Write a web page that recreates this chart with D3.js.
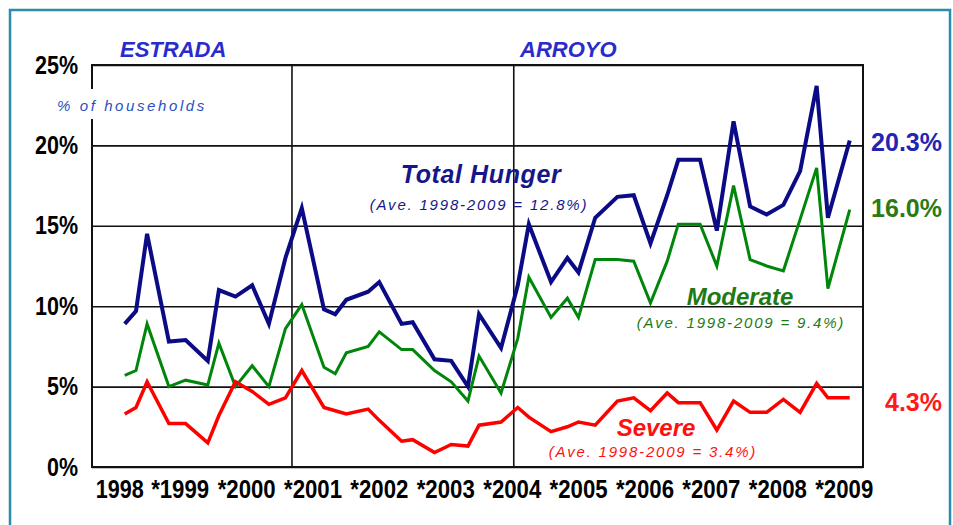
<!DOCTYPE html>
<html>
<head>
<meta charset="utf-8">
<script src="https://cdnjs.cloudflare.com/ajax/libs/d3/7.8.5/d3.min.js"></script>
<style>
  body { margin: 0; background: #fff; }
  .tick text { fill: #000; }
</style>
</head>
<body>
<div id="chart"></div>
<script>
// survey rounds (year-month)
var surveyMonths = ['1998-07','1998-09','1998-11','1999-03','1999-06','1999-10','1999-12',
  '2000-03','2000-06','2000-09','2000-12','2001-03','2001-07','2001-09','2001-11',
  '2002-03','2002-05','2002-09','2002-11','2003-03','2003-06','2003-09','2003-11',
  '2004-03','2004-06','2004-08','2004-12','2005-03','2005-05','2005-08','2005-12',
  '2006-03','2006-06','2006-09','2006-11','2007-03','2007-06','2007-09','2007-12',
  '2008-03','2008-06','2008-09','2008-12','2009-02','2009-06'];

var totalHunger = [8.9,9.7,14.5,7.8,7.9,6.6,11.0,10.6,11.3,8.9,13.0,16.1,9.8,9.5,10.4,
  10.9,11.5,8.9,9.0,6.7,6.6,5.0,9.5,7.4,11.3,15.1,11.5,13.0,12.1,15.5,16.8,
  16.9,13.9,16.9,19.1,19.1,14.7,21.5,16.2,15.7,16.3,18.4,23.7,15.5,20.3];

var moderateHunger = [5.7,6.0,8.9,5.0,5.4,5.1,7.7,5.0,6.3,5.0,8.6,10.1,6.2,5.8,7.1,
  7.5,8.4,7.3,7.3,6.0,5.3,4.1,6.9,4.6,8.0,11.8,9.3,10.5,9.3,12.9,12.9,
  12.8,10.2,12.8,15.1,15.1,12.5,17.5,12.9,12.5,12.2,15.4,18.6,11.1,16.0];

var severeHunger = [3.3,3.7,5.3,2.7,2.7,1.5,3.2,5.3,4.7,3.9,4.3,6.0,3.7,3.5,3.3,
  3.6,2.9,1.6,1.7,0.9,1.4,1.3,2.6,2.8,3.7,3.1,2.2,2.5,2.8,2.6,4.1,
  4.3,3.5,4.6,4.0,4.0,2.3,4.1,3.4,3.4,4.2,3.4,5.2,4.3,4.3];

var seriesNames = ['Total Hunger','Moderate','Severe'];
var seriesAverages = [12.8, 9.4, 3.4];
var yTicks = [0,5,10,15,20,25];
var yearLabels = [1998,1999,2000,2001,2002,2003,2004,2005,2006,2007,2008,2009];
var termBreaks = ['2001-01-20','2004-05-24'];
var presidents = ['ESTRADA','ARROYO'];

var svgWidth = 953,
  svgHeight = 525;

var margin = {t:65, r:90, b:58, l:92};
var width = svgWidth - margin.l - margin.r,
  height = svgHeight - margin.t - margin.b;

var svg = d3.select('#chart')
  .append('svg')
  .attr('width', svgWidth)
  .attr('height', svgHeight)
  .style('display','block');

// outer teal frame
svg.append('rect')
  .attr('x', 10).attr('y', 10)
  .attr('width', 940).attr('height', 530)
  .attr('fill', '#fff')
  .attr('stroke', '#2a8cab')
  .attr('stroke-width', 2.5);

var chartGroup = svg.append('g')
  .attr('transform', `translate(${margin.l},${margin.t})`);

var parseMonth = d3.timeParse('%Y-%m');
var parseDay = d3.timeParse('%Y-%m-%d');
var midMonth = s => d3.timeDay.offset(parseMonth(s), 14);

var xScale = d3.scaleTime()
  .domain([new Date(1998,0,16), new Date(2009,7,27)])
  .range([0, width]);

var yScale = d3.scaleLinear()
  .domain([0, 25])
  .range([height, 0]);

// narrow look: no condensed font installed, so squeeze glyphs with textLength
var axisFont = '"Liberation Sans",Arial,sans-serif';

// y gridlines + labels
var yAxis = chartGroup.append('g')
  .call(d3.axisLeft(yScale).tickValues(yTicks).tickSize(-width).tickPadding(14).tickFormat(d => d + '%'));
yAxis.select('.domain').remove();
yAxis.selectAll('.tick line').attr('stroke', '#111').attr('stroke-width', 1.6);
yAxis.selectAll('.tick text')
  .style('font-family', axisFont)
  .style('font-size', '25px')
  .style('font-weight', 'bold')
  .attr('textLength', d => String(d).length * 12 + 19)
  .attr('lengthAdjust', 'spacingAndGlyphs');

// x labels (year digits centred mid-year, asterisk before)
var xAxis = chartGroup.append('g')
  .attr('transform', `translate(0,${height})`)
  .call(d3.axisBottom(xScale)
    .tickValues(yearLabels.map(y => new Date(y,5,15)))
    .tickSize(0).tickPadding(13)
    .tickFormat(d => (d.getFullYear() > 1998 ? '*' : '') + d.getFullYear()));
xAxis.select('.domain').remove();
xAxis.selectAll('.tick text')
  .style('font-family', axisFont)
  .style('font-size', '25px')
  .style('font-weight', 'bold')
  .attr('textLength', d => d.getFullYear() > 1998 ? 58 : 48)
  .attr('lengthAdjust', 'spacingAndGlyphs')
  .attr('dx', d => d.getFullYear() > 1998 ? -6 : 0);

// term break lines
chartGroup.selectAll('.termLine')
  .data(termBreaks)
  .enter()
  .append('line')
  .attr('x1', d => xScale(parseDay(d)))
  .attr('x2', d => xScale(parseDay(d)))
  .attr('y1', 0).attr('y2', height)
  .attr('stroke', '#111').attr('stroke-width', 1.6);

// plot frame
chartGroup.append('rect')
  .attr('width', width).attr('height', height)
  .attr('fill', 'none')
  .attr('stroke', '#111').attr('stroke-width', 2);

// "% of households" with white gap on the axis
svg.append('rect')
  .attr('x', 55).attr('y', 89).attr('width', 154).attr('height', 30)
  .attr('fill', '#fff');
svg.append('text')
  .attr('x', 57).attr('y', 111)
  .style('font-family', '"Liberation Sans",Arial,sans-serif')
  .style('font-size', '15px').style('font-style', 'italic')
  .style('letter-spacing', '2.6px')
  .attr('fill', '#2a4fc0')
  .text('% of households');

// president names
svg.selectAll('.pres')
  .data(presidents)
  .enter()
  .append('text')
  .attr('x', (d,i) => i === 0 ? 120 : 520)
  .attr('y', 57)
  .style('font-family', '"Liberation Sans",Arial,sans-serif')
  .style('font-size', '22px').style('font-style', 'italic').style('font-weight', 'bold')
  .attr('fill', '#2b2bcc')
  .text(d => d);

// lines
var lineColors = ['#0b0b86', '#00860a', '#ff0000'];
var lineWidths = [4, 3, 3.5];
var allSeries = [totalHunger, moderateHunger, severeHunger];

var line = d3.line()
  .x((d,i) => xScale(midMonth(surveyMonths[i])))
  .y(d => yScale(d));

chartGroup.selectAll('.hungerLine')
  .data(allSeries)
  .enter()
  .append('path')
  .attr('d', d => line(d))
  .attr('fill', 'none')
  .attr('stroke', (d,i) => lineColors[i])
  .attr('stroke-width', (d,i) => lineWidths[i])
  .attr('stroke-linejoin', 'miter');

// latest values on the right
var endColors = ['#2424b4', '#2c7a12', '#ff1a1a'];
var endOffsets = [10, 7, 13];
svg.selectAll('.endLabel')
  .data(allSeries)
  .enter()
  .append('text')
  .attr('x', 942)
  .attr('y', (d,i) => margin.t + yScale(d[d.length-1]) + endOffsets[i])
  .attr('text-anchor', 'end')
  .style('font-family', '"Liberation Sans",Arial,sans-serif')
  .style('font-size', '25px').style('font-weight', 'bold')
  .attr('fill', (d,i) => endColors[i])
  .text(d => d[d.length-1].toFixed(1) + '%');

// series names with averages
var nameColors = ['#16168a', '#1f7a14', '#ff1010'];
var nameX = [481, 740, 656];
var nameY = [183, 305, 436];
var aveX = [479, 741, 653];
var aveY = [210, 328, 457];
var nameGroup = svg.selectAll('.seriesName')
  .data(seriesNames)
  .enter()
  .append('g');
nameGroup.append('text')
  .attr('x', (d,i) => nameX[i]).attr('y', (d,i) => nameY[i])
  .attr('text-anchor', 'middle')
  .style('font-family', '"Liberation Sans",Arial,sans-serif')
  .style('font-size', (d,i) => i === 0 ? '25px' : '24px')
  .style('font-style', 'italic').style('font-weight', 'bold')
  .style('letter-spacing', (d,i) => i === 0 ? '0.6px' : '0px')
  .attr('fill', (d,i) => nameColors[i])
  .text(d => d);
nameGroup.append('text')
  .attr('x', (d,i) => aveX[i]).attr('y', (d,i) => aveY[i])
  .attr('text-anchor', 'middle')
  .style('font-family', '"Liberation Sans",Arial,sans-serif')
  .style('font-size', '15px').style('font-style', 'italic')
  .style('letter-spacing', '1.8px')
  .attr('fill', (d,i) => nameColors[i])
  .text((d,i) => `(Ave. 1998-2009 = ${seriesAverages[i]}%)`);
</script>
</body>
</html>
